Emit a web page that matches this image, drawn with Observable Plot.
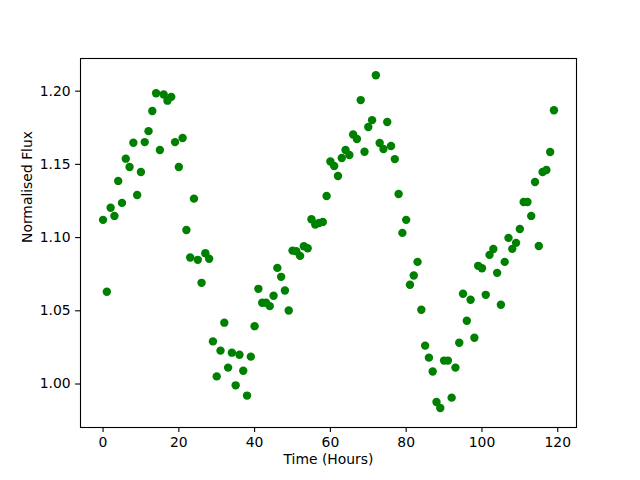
<!DOCTYPE html>
<html>
<head>
<meta charset="utf-8">
<script src="https://cdn.jsdelivr.net/npm/d3@7"></script>
<script src="https://cdn.jsdelivr.net/npm/@observablehq/plot@0.6"></script>
<style>
  html, body { margin: 0; padding: 0; background: #ffffff; }
</style>
</head>
<body>
<div id="chart"></div>
<script>
const hours = [
  0, 1, 2, 3, 4, 5, 6, 7, 8, 9,
  10, 11, 12, 13, 14, 15, 16, 17, 18, 19,
  20, 21, 22, 23, 24, 25, 26, 27, 28, 29,
  30, 31, 32, 33, 34, 35, 36, 37, 38, 39,
  40, 41, 42, 43, 44, 45, 46, 47, 48, 49,
  50, 51, 52, 53, 54, 55, 56, 57, 58, 59,
  60, 61, 62, 63, 64, 65, 66, 67, 68, 69,
  70, 71, 72, 73, 74, 75, 76, 77, 78, 79,
  80, 81, 82, 83, 84, 85, 86, 87, 88, 89,
  90, 91, 92, 93, 94, 95, 96, 97, 98, 99,
  100, 101, 102, 103, 104, 105, 106, 107, 108, 109,
  110, 111, 112, 113, 114, 115, 116, 117, 118, 119
];
const flux = [
  1.1121, 1.0630, 1.1204, 1.1148, 1.1387, 1.1237, 1.1539, 1.1482, 1.1648, 1.1291,
  1.1448, 1.1652, 1.1727, 1.1864, 1.1986, 1.1598, 1.1977, 1.1935, 1.1961, 1.1652,
  1.1482, 1.1680, 1.1052, 1.0864, 1.1266, 1.0848, 1.0691, 1.0893, 1.0855, 1.0291,
  1.0052, 1.0228, 1.0419, 1.0112, 1.0214, 0.9991, 1.0200, 1.0091, 0.9921, 1.0187,
  1.0395, 1.0650, 1.0555, 1.0555, 1.0532, 1.0603, 1.0793, 1.0732, 1.0639, 1.0502,
  1.0911, 1.0907, 1.0875, 1.0941, 1.0927, 1.1125, 1.1089, 1.1100, 1.1107, 1.1284,
  1.1520, 1.1489, 1.1421, 1.1543, 1.1598, 1.1564, 1.1704, 1.1673, 1.1939, 1.1586,
  1.1755, 1.1802, 1.2109, 1.1646, 1.1605, 1.1789, 1.1625, 1.1536, 1.1298, 1.1032,
  1.1121, 1.0678, 1.0741, 1.0834, 1.0507, 1.0262, 1.0180, 1.0085, 0.9877, 0.9836,
  1.0160, 1.0160, 0.9907, 1.0112, 1.0282, 1.0616, 1.0432, 1.0575, 1.0316, 1.0807,
  1.0791, 1.0609, 1.0882, 1.0922, 1.0759, 1.0541, 1.0834, 1.0998, 1.0923, 1.0964,
  1.1059, 1.1243, 1.1243, 1.1148, 1.1380, 1.0943, 1.1448, 1.1462, 1.1584, 1.1870
];
const xTicks = [0, 20, 40, 60, 80, 100, 120];
const yTicks = [1.00, 1.05, 1.10, 1.15, 1.20];
const xLabel = "Time (Hours)";
const yLabel = "Normalised Flux";

const data = hours.map((h, i) => ({hour: h, flux: flux[i]}));

const chart = Plot.plot({
  width: 640,
  height: 480,
  marginTop: 58,
  marginRight: 64,
  marginBottom: 53,
  marginLeft: 80,
  x: {domain: [-5.95, 124.95]},
  y: {domain: [0.9703, 1.2223]},
  style: {
    fontFamily: "DejaVu Sans",
    fontSize: "13.9px",
    color: "black",
    background: "white"
  },
  marks: [
    Plot.axisX({ticks: xTicks, tickSize: 4.9, tickPadding: 4.9, tickFormat: d => String(d), label: null, strokeWidth: 1.1}),
    Plot.axisY({ticks: yTicks, tickSize: 4.9, tickPadding: 4.9, tickFormat: d3.format(".2f"), label: null, strokeWidth: 1.1}),
    Plot.dot(data, {x: "hour", y: "flux", r: 4.2, fill: "green", stroke: "none"}),
    Plot.frame({stroke: "black", strokeWidth: 1.1}),
    Plot.text([xLabel], {frameAnchor: "bottom", dy: 36, text: d => d, fill: "black"}),
    Plot.text([yLabel], {frameAnchor: "left", dx: -53, rotate: -90, text: d => d, fill: "black"})
  ]
});
document.getElementById("chart").appendChild(chart);
</script>
</body>
</html>
